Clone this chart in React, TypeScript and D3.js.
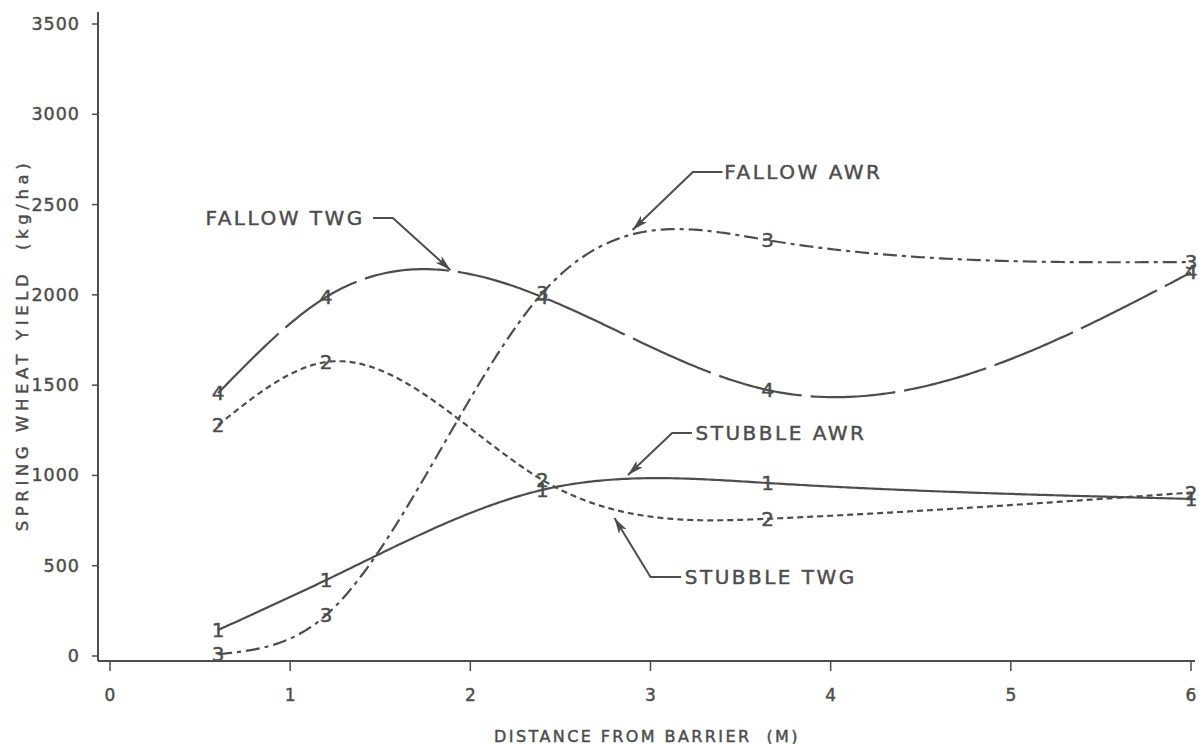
import React from "react";
import * as d3 from "d3";

const distances = [0.6, 1.2, 2.4, 3.65, 6.0];
const stubbleAWR = [144, 421, 920, 958, 870];
const stubbleTWG = [1279, 1628, 975, 760, 905];
const fallowAWR = [10, 227, 2010, 2303, 2182];
const fallowTWG = [1456, 1988, 1988, 1473, 2124];

const xTicks = [0, 1, 2, 3, 4, 5, 6];
const yTicks = [0, 500, 1000, 1500, 2000, 2500, 3000, 3500];

const seriesNames = ["STUBBLE AWR", "STUBBLE TWG", "FALLOW AWR", "FALLOW TWG"];
const seriesMarks = ["1", "2", "3", "4"];
const seriesValues = [stubbleAWR, stubbleTWG, fallowAWR, fallowTWG];
const seriesDash = ["none", "6 4", "14 5 4 5", "85 9"];

// annotation: label anchor (data coords), leader knee, leader tip
const annoLabel = ["FALLOW TWG", "FALLOW AWR", "STUBBLE AWR", "STUBBLE TWG"];
const annoTextX = [0.53, 3.41, 3.25, 3.19];
const annoTextY = [2425, 2680, 1235, 437];
const annoStartX = [1.46, 3.4, 3.23, 3.17];
const annoKneeX = [1.57, 3.235, 3.12, 3.0];
const annoTipX = [1.89, 2.9, 2.875, 2.8];
const annoTipY = [2137, 2359, 1002, 764];

const W = 1199;
const H = 744;
const INK = "#4d4d4d";
const FONT = "'DejaVu Sans', Verdana, sans-serif";

// natural cubic spline y(x) used only to render a smooth line through the data
function naturalSpline(xs: number[], ys: number[]) {
  const n = xs.length;
  const h: number[] = [];
  for (let i = 0; i < n - 1; i++) h.push(xs[i + 1] - xs[i]);
  const a: number[] = new Array(n).fill(0);
  const b: number[] = new Array(n).fill(1);
  const c: number[] = new Array(n).fill(0);
  const r: number[] = new Array(n).fill(0);
  for (let i = 1; i < n - 1; i++) {
    a[i] = h[i - 1];
    b[i] = 2 * (h[i - 1] + h[i]);
    c[i] = h[i];
    r[i] = 6 * ((ys[i + 1] - ys[i]) / h[i] - (ys[i] - ys[i - 1]) / h[i - 1]);
  }
  const cp = new Array(n).fill(0);
  const rp = new Array(n).fill(0);
  cp[0] = c[0] / b[0];
  rp[0] = r[0] / b[0];
  for (let i = 1; i < n; i++) {
    const m = b[i] - a[i] * cp[i - 1];
    cp[i] = c[i] / m;
    rp[i] = (r[i] - a[i] * rp[i - 1]) / m;
  }
  const M = new Array(n).fill(0);
  M[n - 1] = rp[n - 1];
  for (let i = n - 2; i >= 0; i--) M[i] = rp[i] - cp[i] * M[i + 1];
  return (xv: number) => {
    let i = 0;
    while (i < n - 2 && xv > xs[i + 1]) i++;
    const hi = h[i];
    const t1 = xs[i + 1] - xv;
    const t0 = xv - xs[i];
    return (
      (M[i] * t1 * t1 * t1) / (6 * hi) +
      (M[i + 1] * t0 * t0 * t0) / (6 * hi) +
      (ys[i] / hi - (M[i] * hi) / 6) * t1 +
      (ys[i + 1] / hi - (M[i + 1] * hi) / 6) * t0
    );
  };
}

export default function App() {
  const x = d3.scaleLinear().domain([0, 6]).range([110, 1191]);
  const y = d3.scaleLinear().domain([0, 3500]).range([656, 24]);
  const line = d3
    .line<[number, number]>()
    .x((d) => x(d[0]))
    .y((d) => y(d[1]));

  const axisX = 98;
  const axisY = 661;
  const textStroke = { stroke: INK, strokeWidth: 0.45 };
  const x0 = distances[0];
  const x1 = distances[distances.length - 1];
  const sampleXs = d3.range(0, 301).map((k) => x0 + ((x1 - x0) * k) / 300);

  return (
    <svg
      width={W}
      height={H}
      style={{ position: "absolute", left: 0, top: 0, background: "#fff" }}
      fontFamily={FONT}
    >
      <defs>
        <marker
          id="arr"
          viewBox="0 0 16 9"
          refX="16"
          refY="4.5"
          markerWidth="16"
          markerHeight="9"
          markerUnits="userSpaceOnUse"
          orient="auto"
        >
          <path d="M0,0 L16,4.5 L0,9 L4,4.5 Z" fill={INK} />
        </marker>
      </defs>

      {/* axes */}
      <line x1={axisX} y1={12} x2={axisX} y2={axisY} stroke={INK} strokeWidth={2} />
      <line x1={axisX} y1={axisY} x2={1195} y2={axisY} stroke={INK} strokeWidth={2} />

      {yTicks.map((t) => (
        <g key={"y" + t}>
          <line x1={axisX - 6} x2={axisX} y1={y(t)} y2={y(t)} stroke={INK} strokeWidth={1.5} />
          <text
            x={axisX - 18}
            y={y(t)}
            textAnchor="end"
            dominantBaseline="central"
            fontSize={17.5}
            letterSpacing={1}
            fill={INK}
            {...textStroke}
          >
            {t}
          </text>
        </g>
      ))}

      {xTicks.map((t) => (
        <g key={"x" + t}>
          <line x1={x(t)} x2={x(t)} y1={axisY} y2={axisY + 10} stroke={INK} strokeWidth={1.5} />
          <text
            x={x(t)}
            y={axisY + 34}
            textAnchor="middle"
            dominantBaseline="central"
            fontSize={17}
            fill={INK}
            {...textStroke}
          >
            {t}
          </text>
        </g>
      ))}

      <text
        x={647}
        y={736}
        textAnchor="middle"
        dominantBaseline="central"
        fontSize={16}
        letterSpacing={2.4}
        fill={INK}
        style={{ whiteSpace: "pre" }}
        {...textStroke}
      >
        {"DISTANCE FROM BARRIER  (M)"}
      </text>
      <text
        transform={`translate(22,345) rotate(-90)`}
        textAnchor="middle"
        dominantBaseline="central"
        fontSize={16.5}
        letterSpacing={4.6}
        fill={INK}
        style={{ whiteSpace: "pre" }}
        {...textStroke}
      >
        {"SPRING WHEAT YIELD  (kg/ha)"}
      </text>

      {/* curves */}
      {seriesValues.map((vals, i) => {
        const pts = distances.map((d, j) => [d, vals[j]] as [number, number]);
        const f = naturalSpline(distances, vals);
        const smooth = sampleXs.map((sx) => [sx, f(sx)] as [number, number]);
        return (
          <g key={seriesNames[i]}>
            <path
              d={line(smooth) || ""}
              fill="none"
              stroke={INK}
              strokeWidth={2.2}
              strokeDasharray={seriesDash[i]}
            />
            {pts.map((p, j) => (
              <text
                key={j}
                x={x(p[0])}
                y={y(p[1])}
                textAnchor="middle"
                dominantBaseline="central"
                fontSize={20}
                fill={INK}
                {...textStroke}
              >
                {seriesMarks[i]}
              </text>
            ))}
          </g>
        );
      })}

      {/* annotations */}
      {annoLabel.map((lab, i) => {
        const ty = y(annoTextY[i]);
        const pathD = `M${x(annoStartX[i])},${ty} L${x(annoKneeX[i])},${ty} L${x(annoTipX[i])},${y(
          annoTipY[i]
        )}`;
        return (
          <g key={lab}>
            <path d={pathD} fill="none" stroke={INK} strokeWidth={2} markerEnd="url(#arr)" />
            <text
              x={x(annoTextX[i])}
              y={ty}
              textAnchor="start"
              dominantBaseline="central"
              fontSize={20}
              letterSpacing={2.5}
              fill={INK}
              {...textStroke}
            >
              {lab}
            </text>
          </g>
        );
      })}
    </svg>
  );
}
